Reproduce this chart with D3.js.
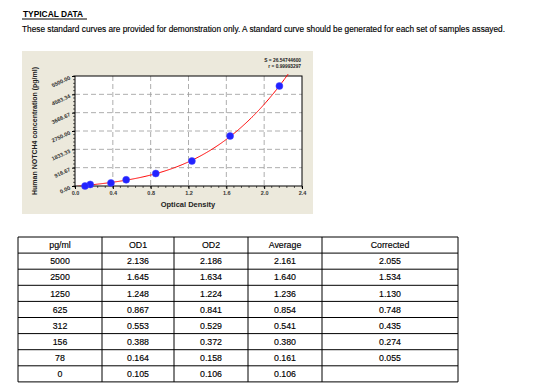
<!DOCTYPE html>
<html><head><meta charset="utf-8">
<script src="https://cdn.jsdelivr.net/npm/d3@7"></script>
<style>body{margin:0;background:#fff;}svg{display:block;}</style>
</head><body>
<script>
const concentrations = [5000, 2500, 1250, 625, 312, 156, 78, 0];
const od1 = ["2.136","1.645","1.248","0.867","0.553","0.388","0.164","0.105"];
const od2 = ["2.186","1.634","1.224","0.841","0.529","0.372","0.158","0.106"];
const average = ["2.161","1.640","1.236","0.854","0.541","0.380","0.161","0.106"];
const corrected = ["2.055","1.534","1.130","0.748","0.435","0.274","0.055",""];
const headers = ["pg/ml","OD1","OD2","Average","Corrected"];
const xTicks = [0,0.4,0.8,1.2,1.6,2.0,2.4];
const yTicks = [0,916.67,1833.33,2750,3666.67,4583.34,5500];
const yTickLabels = ["0.00","916.67","1833.33","2750.00","3666.67","4583.34","5500.00"];
const fitText = ["S = 26.54744600","r = 0.99993297"];

const W=550,H=390;
const svg=d3.select("body").append("svg").attr("width",W).attr("height",H);
const font="Liberation Sans, Arial, sans-serif";

// heading
svg.append("text").attr("x",23).attr("y",17).attr("font-family",font).attr("font-size",9)
  .attr("font-weight","bold").attr("textLength",60).attr("lengthAdjust","spacingAndGlyphs").text("TYPICAL DATA");
svg.append("line").attr("x1",22).attr("x2",87).attr("y1",19).attr("y2",19).attr("stroke","#000").attr("stroke-width",1);
svg.append("text").attr("x",22).attr("y",32).attr("font-family",font).attr("font-size",8.5)
  .attr("textLength",483).attr("lengthAdjust","spacingAndGlyphs").attr("stroke","#000").attr("stroke-width",0.15)
  .text("These standard curves are provided for demonstration only. A standard curve should be generated for each set of samples assayed.");

// chart panel
svg.append("rect").attr("x",22).attr("y",51).attr("width",291).attr("height",163).attr("fill","#ECE9DC");
const L=75,R=302,T=76,B=186;
const x=d3.scaleLinear().domain([0,2.4]).range([L,R]);
const y=d3.scaleLinear().domain([0,5500]).range([B,T]);
svg.append("rect").attr("x",L).attr("y",T).attr("width",R-L).attr("height",B-T).attr("fill","#fff");

// grid
const g=svg.append("g");
g.selectAll(".gx").data(xTicks.slice(1,-1)).join("line")
  .attr("x1",d=>x(d)).attr("x2",d=>x(d)).attr("y1",T).attr("y2",B)
  .attr("stroke","#999").attr("stroke-dasharray","5,3").attr("stroke-width",0.8);
g.selectAll(".gy").data(yTicks.slice(1,-1)).join("line")
  .attr("x1",L).attr("x2",R).attr("y1",d=>y(d)).attr("y2",d=>y(d))
  .attr("stroke","#999").attr("stroke-dasharray","5,3").attr("stroke-width",0.8);

// minor ticks
const xMinor=d3.range(0,2.4001,0.08);
g.selectAll(".mx").data(xMinor).join("line")
  .attr("x1",d=>x(d)).attr("x2",d=>x(d)).attr("y1",B).attr("y2",B+2).attr("stroke","#000").attr("stroke-width",0.6);
const yMinor=d3.range(0,5500.1,5500/30);
g.selectAll(".my").data(yMinor).join("line")
  .attr("x1",L-2).attr("x2",L).attr("y1",d=>y(d)).attr("y2",d=>y(d)).attr("stroke","#000").attr("stroke-width",0.6);

// axes
const xAxis=svg.append("g").attr("transform",`translate(0,${B})`)
  .call(d3.axisBottom(x).tickValues(xTicks).tickFormat(d3.format(".1f")).tickSize(3).tickPadding(2));
xAxis.select(".domain").remove();
xAxis.selectAll("line").attr("stroke","#000");
xAxis.selectAll("text").attr("font-family",font).attr("font-size",5.5).attr("font-weight","bold").attr("fill","#333");
const yAxis=svg.append("g").attr("transform",`translate(${L},0)`)
  .call(d3.axisLeft(y).tickValues(yTicks).tickFormat((d,i)=>yTickLabels[i]).tickSize(3).tickPadding(2));
yAxis.select(".domain").remove();
yAxis.selectAll("text").attr("font-family",font).attr("font-size",5.5).attr("font-weight","bold").attr("fill","#333")
  .attr("transform","rotate(-25)").attr("dy","0.1em");

svg.append("rect").attr("x",L).attr("y",T).attr("width",R-L).attr("height",B-T).attr("fill","none").attr("stroke","#000").attr("stroke-width",1);

// cubic least squares fit
const px=average.map(Number), py=concentrations;
function fit(xs,ys,deg){
  const n=deg+1, A=[...Array(n)].map(()=>Array(n+1).fill(0));
  xs.forEach((xv,k)=>{for(let i=0;i<n;i++){for(let j=0;j<n;j++)A[i][j]+=Math.pow(xv,i+j);A[i][n]+=ys[k]*Math.pow(xv,i);}});
  for(let i=0;i<n;i++){let m=i;for(let r=i+1;r<n;r++)if(Math.abs(A[r][i])>Math.abs(A[m][i]))m=r;[A[i],A[m]]=[A[m],A[i]];
    for(let r=0;r<n;r++){if(r===i)continue;const f=A[r][i]/A[i][i];for(let c=i;c<=n;c++)A[r][c]-=f*A[i][c];}}
  return A.map((row,i)=>row[n]/row[i]);
}
const coef=fit(px,py,3);
const fx=v=>coef.reduce((s,c,i)=>s+c*Math.pow(v,i),0);
svg.append("clipPath").attr("id","clip").append("rect").attr("x",L).attr("y",T-2).attr("width",R-L).attr("height",B-T+2);
const xs=d3.range(0,2.4001,0.01);
svg.append("path").datum(xs).attr("clip-path","url(#clip)")
  .attr("d",d3.line().x(d=>x(d)).y(d=>y(fx(d)))).attr("fill","none").attr("stroke","#ff0000").attr("stroke-width",1);

svg.selectAll(".pt").data(px.map((v,i)=>[v,py[i]])).join("circle")
  .attr("cx",d=>x(d[0])).attr("cy",d=>y(d[1])).attr("r",3.5).attr("fill","#2222ff").attr("stroke","#4444ff").attr("stroke-width",0.5);

// labels
svg.append("text").attr("x",188).attr("y",207).attr("text-anchor","middle").attr("font-family",font)
  .attr("font-size",7.5).attr("font-weight","bold").attr("fill","#222").text("Optical Density");
svg.append("text").attr("transform","translate(37,131) rotate(-90)").attr("text-anchor","middle").attr("font-family",font)
  .attr("font-size",7).attr("font-weight","bold").attr("fill","#222").text("Human NOTCH4 concentration (pg/ml)");
svg.selectAll(".ft").data(fitText).join("text").attr("x",301).attr("y",(d,i)=>62+i*6).attr("text-anchor","end")
  .attr("font-family",font).attr("font-size",4.8).attr("font-weight","bold").attr("fill","#222").text(d=>d);

// table
const colX=[18,102,174,248,322,458];
const tT=237,rowH=16.1;
const rows=[headers].concat(concentrations.map((c,i)=>[String(c),od1[i],od2[i],average[i],corrected[i]]));
const tb=svg.append("g");
rows.forEach((r,ri)=>{
  r.forEach((v,ci)=>{
    tb.append("text").attr("x",(colX[ci]+colX[ci+1])/2).attr("y",tT+ri*rowH+rowH/2+3.2)
      .attr("text-anchor","middle").attr("font-family",font).attr("font-size",8.8).attr("fill","#000")
      .attr("stroke","#000").attr("stroke-width",0.15).text(v);
  });
});
tb.selectAll(".hl").data(d3.range(rows.length+1)).join("line")
  .attr("x1",colX[0]).attr("x2",colX[5]).attr("y1",d=>tT+d*rowH).attr("y2",d=>tT+d*rowH).attr("stroke","#000").attr("stroke-width",1);
tb.selectAll(".vl").data(colX).join("line")
  .attr("x1",d=>d).attr("x2",d=>d).attr("y1",tT).attr("y2",tT+rows.length*rowH).attr("stroke","#000").attr("stroke-width",1);
</script>
</body></html>
